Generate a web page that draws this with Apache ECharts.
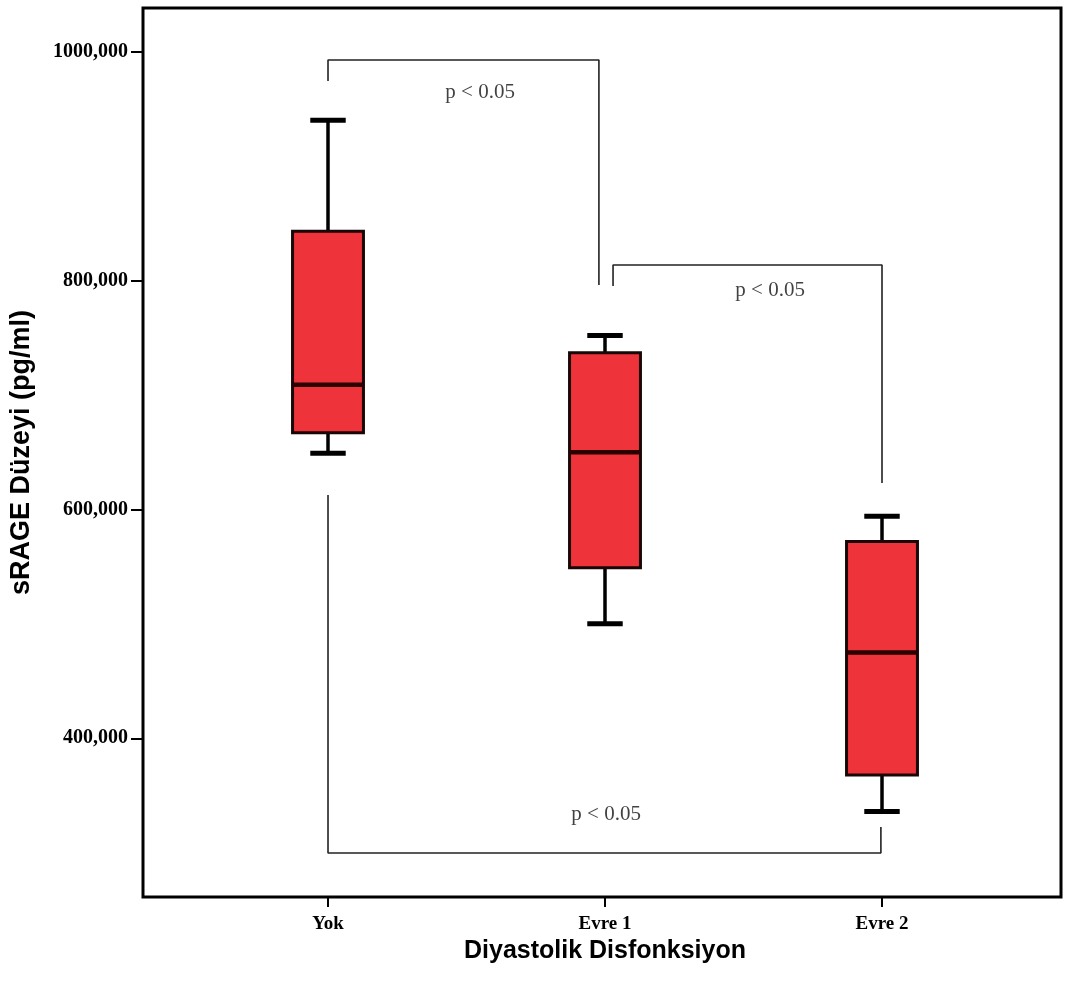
<!DOCTYPE html>
<html>
<head>
<meta charset="utf-8">
<script src="https://cdn.jsdelivr.net/npm/echarts@6/dist/echarts.min.js"></script>
<style>
  html, body { margin: 0; padding: 0; background: #fff; }
  #chart { width: 1067px; height: 988px; }
</style>
</head>
<body>
<div id="chart"></div>
<script>
// ---- data ----
const categories = ['Yok', 'Evre 1', 'Evre 2'];
const whiskerLow  = [649000, 500000, 336000];
const q1          = [667000, 549000, 368000];
const median      = [709000, 650000, 475000];
const q3          = [843000, 737000, 572000];
const whiskerHigh = [940000, 752000, 594000];

const yTicks = [400000, 600000, 800000, 1000000];

// significance brackets, in data units (x = category index, y = value)
const bracketTop    = [[0, 974400], [0, 992750], [0.978, 992750], [0.978, 796100]];
const bracketMiddle = [[1.029, 795200], [1.029, 813600], [2.0, 813600], [2.0, 623100]];
const bracketBottom = [[0, 612700], [0, 299700], [1.996, 299700], [1.996, 322400]];
const pLabelText = 'p < 0.05';
const pLabelPos = [[0.549, 964800], [1.596, 791700], [1.004, 333000]];

// ---- chart ----
const boxData = categories.map((c, i) => [i, whiskerLow[i], q1[i], median[i], q3[i], whiskerHigh[i]]);

const Y_MIN = 261300, Y_MAX = 1038200;
const chart = echarts.init(document.getElementById('chart'), null, { renderer: 'canvas' });

const serif = "'Liberation Serif', 'Times New Roman', serif";
const sans = "'Liberation Sans', Arial, sans-serif";

const bracketStyle = { color: '#222', width: 1.6 };
function bracketSeries(pts) {
  return {
    type: 'line', xAxisIndex: 0, yAxisIndex: 0, data: pts,
    symbol: 'none', lineStyle: bracketStyle, silent: true, z: 3, clip: false
  };
}

chart.setOption({
  animation: false,
  backgroundColor: '#fff',
  grid: [
    { left: 143, top: 8, width: 918, height: 889, show: true, borderColor: '#000', borderWidth: 3, backgroundColor: 'transparent' },
    { left: 189.5, top: 8, width: 831, height: 889 },
    { left: 143, top: 51.7, width: 918, height: 686.6 }
  ],
  xAxis: [
    { gridIndex: 0, type: 'value', min: -0.6679, max: 2.6462, show: false },
    {
      gridIndex: 1, type: 'category', data: categories, boundaryGap: true,
      axisLine: { show: false },
      axisTick: { show: true, alignWithLabel: true, length: 10, lineStyle: { color: '#000', width: 2 } },
      axisLabel: { margin: 18, color: '#000', fontFamily: serif, fontWeight: 'bold', fontSize: 19 },
      name: 'Diyastolik Disfonksiyon', nameLocation: 'middle', nameGap: 39,
      nameTextStyle: { color: '#000', fontFamily: sans, fontWeight: 'bold', fontSize: 25 }
    },
    { gridIndex: 2, type: 'value', show: false }
  ],
  yAxis: [
    {
      gridIndex: 0, type: 'value', min: Y_MIN, max: Y_MAX,
      axisLine: { show: false }, axisTick: { show: false }, axisLabel: { show: false }, splitLine: { show: false },
      name: 'sRAGE Düzeyi (pg/ml)', nameLocation: 'middle', nameGap: 108,
      nameTextStyle: { color: '#000', fontFamily: sans, fontWeight: 'bold', fontSize: 27 }
    },
    { gridIndex: 1, type: 'value', min: Y_MIN, max: Y_MAX, show: false },
    {
      gridIndex: 2, type: 'value', min: yTicks[0], max: yTicks[yTicks.length - 1], interval: 200000,
      axisLine: { show: false },
      axisTick: { show: true, length: 12, lineStyle: { color: '#000', width: 2 } },
      splitLine: { show: false },
      axisLabel: {
        margin: 15, color: '#000', fontFamily: serif, fontWeight: 'bold', fontSize: 20,
        formatter: v => (v / 1000) + ',000'
      }
    }
  ],
  series: [
    {
      type: 'custom', xAxisIndex: 1, yAxisIndex: 1, data: boxData, z: 5,
      encode: { x: 0, y: [1, 2, 3, 4, 5] },
      renderItem: function (params, api) {
        const idx = api.value(0);
        const pLow = api.coord([idx, api.value(1)]);
        const pQ1 = api.coord([idx, api.value(2)]);
        const pMed = api.coord([idx, api.value(3)]);
        const pQ3 = api.coord([idx, api.value(4)]);
        const pHigh = api.coord([idx, api.value(5)]);
        const band = api.size([1, 0])[0];
        const bw = band * 0.256;
        const half = bw / 2, cap = bw / 4;
        const x = pMed[0];
        const wStyle = { stroke: '#000', lineWidth: 3.5 };
        const cStyle = { stroke: '#000', lineWidth: 5 };
        return {
          type: 'group',
          children: [
            { type: 'line', shape: { x1: x, y1: pHigh[1], x2: x, y2: pQ3[1] }, style: wStyle },
            { type: 'line', shape: { x1: x, y1: pQ1[1], x2: x, y2: pLow[1] }, style: wStyle },
            { type: 'line', shape: { x1: x - cap, y1: pHigh[1], x2: x + cap, y2: pHigh[1] }, style: cStyle },
            { type: 'line', shape: { x1: x - cap, y1: pLow[1], x2: x + cap, y2: pLow[1] }, style: cStyle },
            { type: 'rect', shape: { x: x - half, y: pQ3[1], width: bw, height: pQ1[1] - pQ3[1] },
              style: { fill: '#EE333A', stroke: '#1a0606', lineWidth: 3 } },
            { type: 'line', shape: { x1: x - half, y1: pMed[1], x2: x + half, y2: pMed[1] },
              style: { stroke: '#2a0000', lineWidth: 4.5 } }
          ]
        };
      }
    },
    bracketSeries(bracketTop),
    bracketSeries(bracketMiddle),
    bracketSeries(bracketBottom),
    {
      type: 'scatter', xAxisIndex: 0, yAxisIndex: 0, data: pLabelPos, symbolSize: 0, silent: true, z: 4,
      label: {
        show: true, position: 'inside', formatter: pLabelText,
        color: '#111', fontFamily: serif, fontSize: 21
      }
    }
  ]
});
</script>
</body>
</html>
